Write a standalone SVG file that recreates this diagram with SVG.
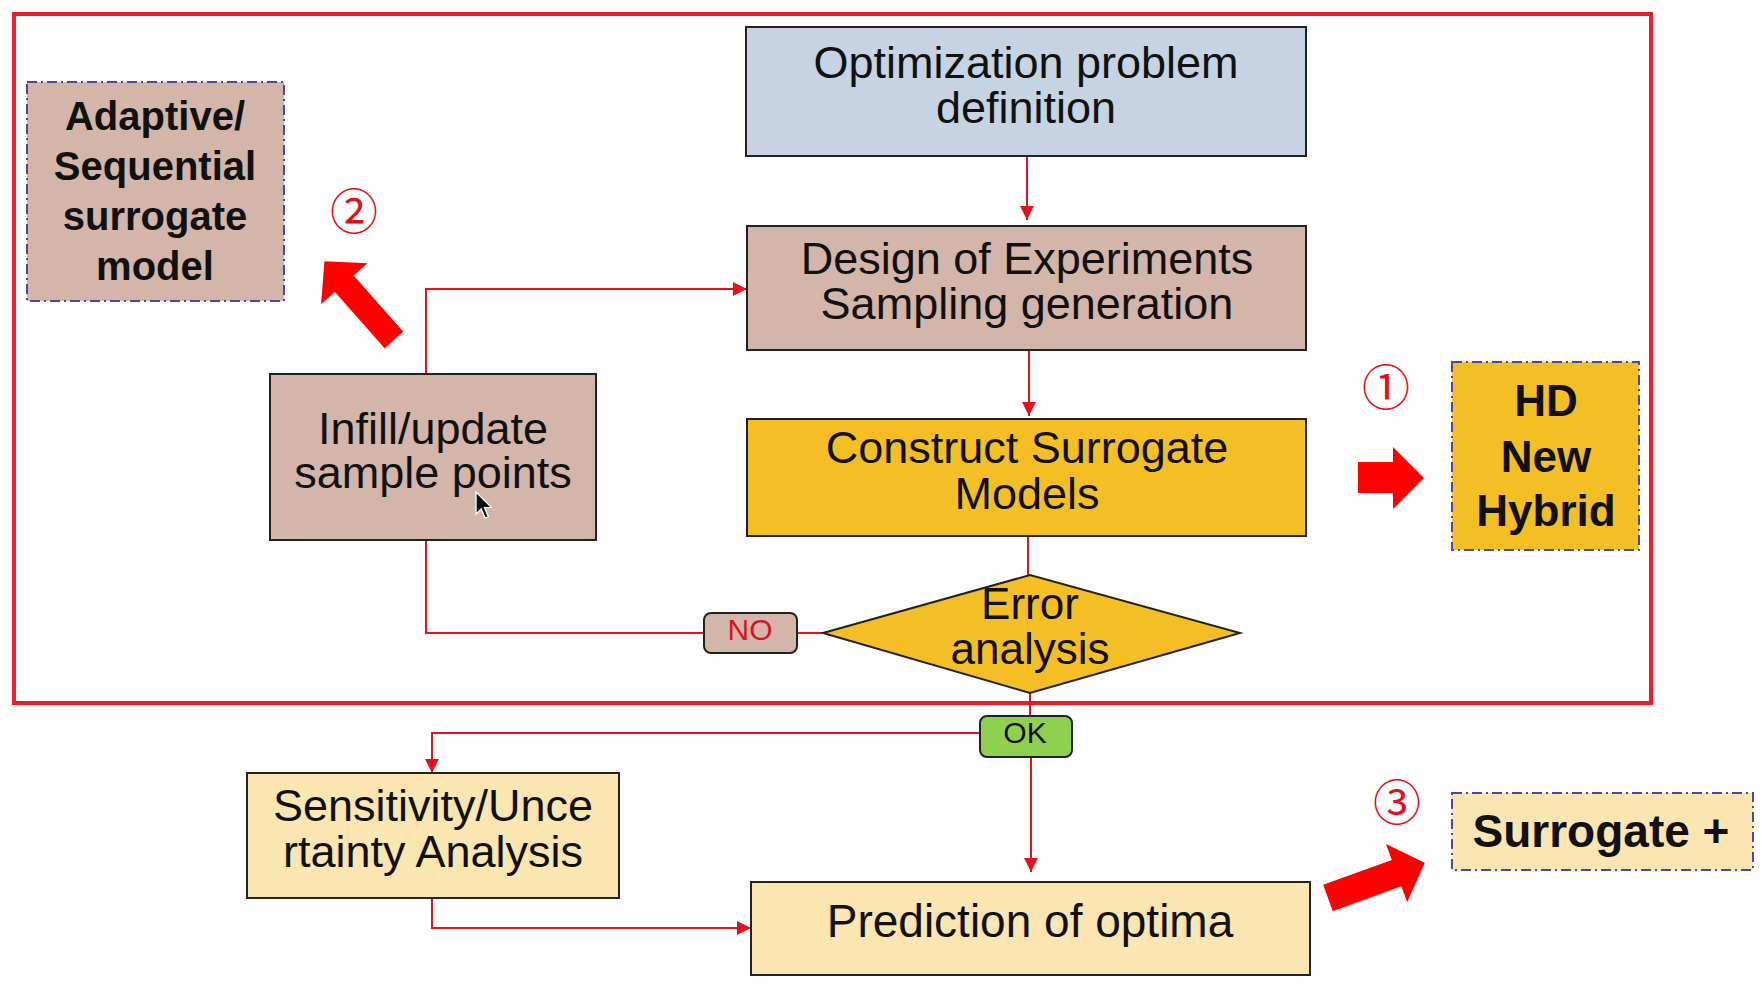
<svg xmlns="http://www.w3.org/2000/svg" width="1762" height="987" viewBox="0 0 1762 987">
<defs>
<style>
.box{stroke:#222;stroke-width:2}
.dash{stroke:#4a4a9c;stroke-width:2;stroke-dasharray:10 4 2 4}
.t{font-family:"Liberation Sans",Arial,sans-serif;font-size:45px;fill:#111;text-anchor:middle}
.b{font-family:"Liberation Sans",Arial,sans-serif;font-weight:bold;fill:#111;text-anchor:middle}
.num{font-family:"Noto Sans CJK SC","DejaVu Sans",sans-serif;font-size:48px;fill:#e01020;text-anchor:middle}
.c{fill:none;stroke:#e0141e;stroke-width:2}
.big{fill:#ff0000}
</style>
<marker id="ah" markerUnits="userSpaceOnUse" markerWidth="14" markerHeight="14" viewBox="0 0 14 14" refX="14" refY="7" orient="auto">
<path d="M0,0 L14,7 L0,14 z" fill="#e0141e"/>
</marker>
</defs>
<rect width="1762" height="987" fill="#fefefe"/>
<rect x="14" y="14" width="1637" height="689" fill="none" stroke="#ee1c25" stroke-width="4"/>

<g id="connectors">
<path class="c" d="M1027,156 V220" marker-end="url(#ah)"/>
<path class="c" d="M1029,350 V416" marker-end="url(#ah)"/>
<path class="c" d="M1028,536 V575"/>
<path class="c" d="M823,633 H797"/>
<path class="c" d="M704,633 H426 V540"/>
<path class="c" d="M426,374 V289 H747" marker-end="url(#ah)"/>
<path class="c" d="M1030,693 V716"/>
<path class="c" d="M1031,757 V872" marker-end="url(#ah)"/>
<path class="c" d="M980,733 H432 V773" marker-end="url(#ah)"/>
<path class="c" d="M432,898 V928 H751" marker-end="url(#ah)"/>
</g>

<g id="opt">
<rect class="box" x="746" y="27" width="560" height="129" fill="#c5d3e2"/>
<text class="t"><tspan x="1026" y="78">Optimization problem</tspan><tspan x="1026" y="123">definition</tspan></text>
</g>

<g id="doe">
<rect class="box" x="747" y="226" width="559" height="124" fill="#d3b5aa"/>
<text class="t"><tspan x="1027" y="274">Design of Experiments</tspan><tspan x="1027" y="319">Sampling generation</tspan></text>
</g>

<g id="construct">
<rect class="box" x="747" y="419" width="559" height="117" fill="#f3bf24"/>
<text class="t"><tspan x="1027" y="463">Construct Surrogate</tspan><tspan x="1027" y="509">Models</tspan></text>
</g>

<g id="error">
<polygon class="box" points="823,633 1030,575 1240,633 1030,693" fill="#f3bf24"/>
<text class="t" style="font-size:44px"><tspan x="1030" y="619">Error</tspan><tspan x="1030" y="664">analysis</tspan></text>
</g>

<g id="no">
<rect class="box" x="704" y="613" width="93" height="40" rx="7" fill="#d3b5aa"/>
<text class="t" x="750" y="640" style="font-size:30px;fill:#e01020">NO</text>
</g>

<g id="ok">
<rect class="box" x="980" y="716" width="92" height="41" rx="7" fill="#8fd14f"/>
<text class="t" x="1025" y="743" style="font-size:30px">OK</text>
</g>

<g id="infill">
<rect class="box" x="270" y="374" width="326" height="166" fill="#d3b5aa"/>
<text class="t"><tspan x="433" y="444">Infill/update</tspan><tspan x="433" y="488">sample points</tspan></text>
<path d="M0,0 L0,17 L4,13 L7,20 L9.5,19 L6.5,12 L12,12 z" transform="translate(476,492) scale(1.3)" fill="#111" stroke="#fff" stroke-width="1"/>
</g>

<g id="sensitivity">
<rect class="box" x="247" y="773" width="372" height="125" fill="#fbe5b0"/>
<text class="t"><tspan x="433" y="821">Sensitivity/Unce</tspan><tspan x="433" y="867">rtainty Analysis</tspan></text>
</g>

<g id="prediction">
<rect class="box" x="751" y="882" width="559" height="93" fill="#fbe5b0"/>
<text class="t" x="1030" y="937" style="font-size:46px">Prediction of optima</text>
</g>

<g id="adaptive">
<rect class="dash" x="27" y="82" width="257" height="219" fill="#d3b5aa"/>
<text class="b" font-size="40"><tspan x="155" y="130">Adaptive/</tspan><tspan x="155" y="180">Sequential</tspan><tspan x="155" y="230">surrogate</tspan><tspan x="155" y="280">model</tspan></text>
</g>

<g id="hd">
<rect class="dash" x="1452" y="362" width="187" height="188" fill="#f3bf24"/>
<text class="b" font-size="44"><tspan x="1546" y="416">HD</tspan><tspan x="1546" y="472">New</tspan><tspan x="1546" y="526">Hybrid</tspan></text>
</g>

<g id="surrogateplus">
<rect class="dash" x="1452" y="793" width="301" height="77" fill="#fbe5b0"/>
<text class="b" x="1601" y="847" font-size="46">Surrogate +</text>
</g>

<g id="marks">
<text class="num" x="1386" y="405">①</text>
<text class="num" x="354" y="229">②</text>
<text class="num" x="1397" y="820">③</text>
<polygon class="big" points="1358,462 1393,462 1393,447 1424,478 1393,509 1393,493 1358,493"/>
<polygon class="big" points="0,-12.5 75,-12.5 75,-31 105,0 75,31 75,12.5 0,12.5" transform="translate(394,340) rotate(-131.5)"/>
<polygon class="big" points="0,-14 73,-14 73,-31 103,0 73,31 73,14 0,14" transform="translate(1328,898) rotate(-20)"/>
</g>
</svg>
